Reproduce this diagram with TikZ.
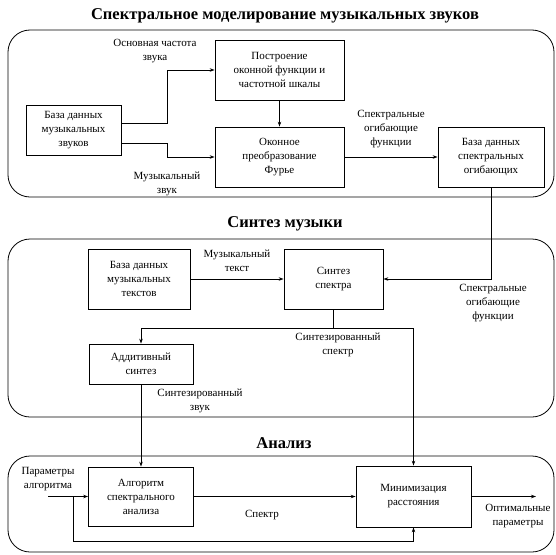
\documentclass[tikz,border=0pt]{standalone}
\usepackage{fontspec}
\setmainfont{Liberation Serif}
\usetikzlibrary{arrows.meta}
\begin{document}
\begin{tikzpicture}[x=1pt,y=-1pt,
  every node/.style={font=\fontsize{11}{14}\selectfont, align=center, inner sep=0pt},
  blk/.style={draw, line width=0.8pt},
  grp/.style={draw, line width=0.8pt, rounded corners=22pt},
  ttl/.style={font=\fontsize{16.5}{18}\selectfont\bfseries},
  arr/.style={line width=0.7pt, -{Stealth[length=5pt,width=3.5pt]}},
  ln/.style={line width=0.7pt}]
\useasboundingbox (0,0) rectangle (556,554);
% groups
\node[grp, minimum width=546pt, minimum height=167pt] (g1) at (281,113.5) {};
\node[grp, minimum width=546pt, minimum height=178pt] (g2) at (281,328) {};
\node[grp, minimum width=546pt, minimum height=96pt] (g3) at (281,504) {};
\node[ttl] (t1) at (285,16) {Спектральное моделирование музыкальных звуков};
\node[ttl] (t2) at (285,224) {Синтез музыки};
\node[ttl] (t3) at (284,443) {Анализ};
% blocks
\node[blk, minimum width=95pt, minimum height=50pt] (db1) at (73.5,130) {База данных\\музыкальных\\звуков};
\node[blk, minimum width=129pt, minimum height=60pt] (build) at (279.5,70) {Построение\\оконной функции и\\частотной шкалы};
\node[blk, minimum width=129pt, minimum height=60pt] (four) at (279.5,157) {Оконное\\преобразование\\Фурье};
\node[blk, minimum width=106pt, minimum height=60pt] (dbs) at (491,157) {База данных\\спектральных\\огибающих};
\node[blk, minimum width=102pt, minimum height=60pt] (dbt) at (139,279) {База данных\\музыкальных\\текстов};
\node[blk, minimum width=99pt, minimum height=60pt] (syn) at (333.5,279) {Синтез\\спектра};
\node[blk, minimum width=104pt, minimum height=40pt] (add) at (141,364) {Аддитивный\\синтез};
\node[blk, minimum width=105pt, minimum height=59pt] (alg) at (141,496.5) {Алгоритм\\спектрального\\анализа};
\node[blk, minimum width=115pt, minimum height=61pt] (min) at (413.5,496.5) {Минимизация\\расстояния};
% labels
\node (l1) at (155,51) {Основная частота\\звука};
\node (l2) at (167,184) {Музыкальный\\звук};
\node (l3) at (391,129) {Спектральные\\огибающие\\функции};
\node (l4) at (237,261) {Музыкальный\\текст};
\node (l5) at (493,303) {Спектральные\\огибающие\\функции};
\node (l6) at (338,345) {Синтезированный\\спектр};
\node (l7) at (200,401) {Синтезированный\\звук};
\node (l8) at (48,479) {Параметры\\алгоритма};
\node (l9) at (262,515) {Спектр};
\node (l10) at (518,516) {Оптимальные\\параметры};
% connectors
\draw[arr] ([yshift=7pt]db1.east) -- ++(46,0) |- (build.west);
\draw[arr] ([yshift=-13pt]db1.east) -- ++(46,0) |- (four.west);
\draw[arr] (build) -- (four);
\draw[arr] (four) -- (dbs);
\draw[arr] (dbs.south) |- (syn.east);
\draw[arr] (dbt) -- (syn);
\coordinate (sp) at (333.5,328);
\draw[ln] (syn.south) -- (sp);
\draw[arr] (sp) -| (add.north);
\draw[arr] (sp) -| (min.north);
\draw[arr] (add) -- (alg);
\coordinate (pin) at (48,496.5);
\coordinate (fb) at (73,496.5);
\coordinate (pout) at (536,496.5);
\draw[arr] (pin) -- (alg.west);
\draw[arr] (fb) |- ([yshift=-14pt]min.south) -- (min.south);
\draw[arr] (alg) -- (min);
\draw[arr] (min.east) -- (pout);
\end{tikzpicture}
\end{document}
